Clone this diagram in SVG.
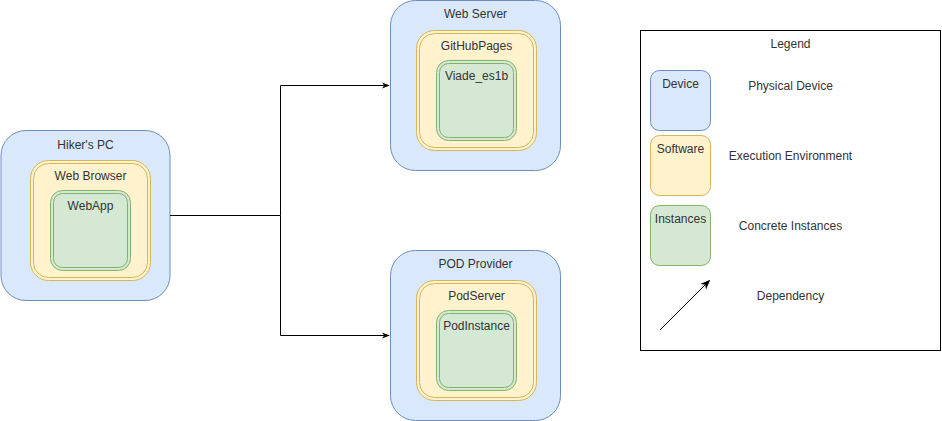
<svg xmlns="http://www.w3.org/2000/svg" width="942" height="421" viewBox="0 0 942 421">
<defs>
<marker id="arr" viewBox="0 0 10 10" refX="9" refY="5" markerWidth="8" markerHeight="8" markerUnits="userSpaceOnUse" orient="auto">
<path d="M0,1 L10,5 L0,9 L3,5 Z" fill="#000"/>
</marker>
<marker id="arrL" viewBox="0 0 10 10" refX="9" refY="5" markerWidth="10" markerHeight="10" markerUnits="userSpaceOnUse" orient="auto">
<path d="M0,1 L10,5 L0,9 L3,5 Z" fill="#000"/>
</marker>
</defs>
<style>
text{font-family:"Liberation Sans",Arial,sans-serif;font-size:12px;fill:#333;text-anchor:middle}
.dev{fill:#dae8fc;stroke:#6c8ebf;stroke-width:1}
.sw{fill:#fff2cc;stroke:#d6b656;stroke-width:1}
.swi{fill:none;stroke:#d6b656;stroke-width:1}
.in{fill:#d5e8d4;stroke:#82b366;stroke-width:1}
.ini{fill:none;stroke:#82b366;stroke-width:1}
.edge{fill:none;stroke:#000;stroke-width:1}
</style>
<rect x="0" y="0" width="942" height="421" fill="#fff"/>
<g id="hikers-pc">
<rect class="dev" x="1" y="130.5" width="169" height="170" rx="25"/>
<text x="85.5" y="149">Hiker's PC</text>
</g>
<g id="web-browser">
<rect class="sw" x="30.5" y="160.5" width="120" height="120" rx="18"/>
<rect class="swi" x="33.5" y="163.5" width="114" height="114" rx="15"/>
<text x="90.5" y="180">Web Browser</text>
</g>
<g id="webapp">
<rect class="in" x="50.5" y="190.5" width="80" height="80" rx="12"/>
<rect class="ini" x="53.5" y="193.5" width="74" height="74" rx="9"/>
<text x="90.5" y="210">WebApp</text>
</g>
<g id="web-server">
<rect class="dev" x="390.5" y="0.5" width="170" height="170" rx="25"/>
<text x="475.5" y="18">Web Server</text>
</g>
<g id="githubpages">
<rect class="sw" x="416.5" y="30.5" width="120" height="120" rx="18"/>
<rect class="swi" x="419.5" y="33.5" width="114" height="114" rx="15"/>
<text x="476.5" y="50">GitHubPages</text>
</g>
<g id="viade">
<rect class="in" x="436.5" y="60.5" width="80" height="80" rx="12"/>
<rect class="ini" x="439.5" y="63.5" width="74" height="74" rx="9"/>
<text x="476.5" y="80">Viade_es1b</text>
</g>
<g id="pod-provider">
<rect class="dev" x="390.5" y="250.5" width="170" height="170" rx="25"/>
<text x="475.5" y="268">POD Provider</text>
</g>
<g id="podserver">
<rect class="sw" x="416.5" y="280.5" width="120" height="120" rx="18"/>
<rect class="swi" x="419.5" y="283.5" width="114" height="114" rx="15"/>
<text x="476.5" y="300">PodServer</text>
</g>
<g id="podinstance">
<rect class="in" x="436.5" y="310.5" width="80" height="80" rx="12"/>
<rect class="ini" x="439.5" y="313.5" width="74" height="74" rx="9"/>
<text x="476.5" y="330">PodInstance</text>
</g>
<g id="connectors">
<path class="edge" d="M170,215.5 H280.5 V85.5 H389" marker-end="url(#arr)"/>
<path class="edge" d="M280.5,215.5 V335.5 H389" marker-end="url(#arr)"/>
</g>
<g id="legend">
<rect x="640.5" y="30.5" width="300" height="320" fill="#fff" stroke="#000" stroke-width="1"/>
<text x="790.5" y="48">Legend</text>
<rect class="dev" x="650.5" y="70.5" width="60" height="60" rx="9"/>
<text x="680.5" y="88">Device</text>
<text x="790.5" y="90">Physical Device</text>
<rect class="sw" x="650.5" y="135.5" width="60" height="60" rx="9"/>
<text x="680.5" y="153">Software</text>
<text x="790.5" y="160">Execution Environment</text>
<rect class="in" x="650.5" y="205.5" width="60" height="60" rx="9"/>
<text x="680.5" y="223">Instances</text>
<text x="790.5" y="230">Concrete Instances</text>
<path class="edge" d="M660,330 L709.5,280.5" marker-end="url(#arrL)"/>
<text x="790.5" y="300">Dependency</text>
</g>
</svg>
